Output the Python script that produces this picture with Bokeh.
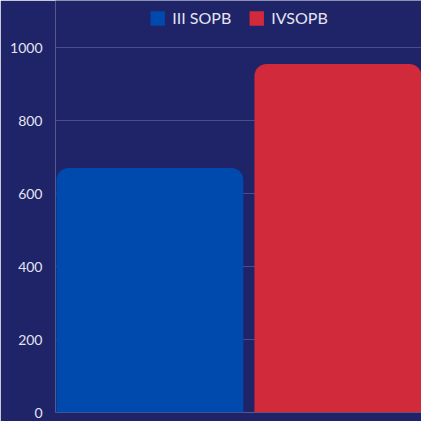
from bokeh.plotting import figure
from bokeh.models import ColumnDataSource, FixedTicker, Range1d, Legend, LegendItem
from bokeh.embed import file_html
from bokeh.resources import INLINE

series = ["III SOPB", "IVSOPB"]
values = [670, 955]
colors = ["#0049AD", "#D12A3B"]
y_ticks = [0, 200, 400, 600, 800, 1000]

BG = "#1F2368"
TXT = "#E4E4F2"

p = figure(width=421, height=421, output_backend="svg", toolbar_location=None,
           x_range=Range1d(-0.477, 1.372), y_range=Range1d(0, 1129),
           min_border_left=55, min_border_right=0, min_border_top=0, min_border_bottom=9)
p.background_fill_color = BG
p.border_fill_color = BG
p.outline_line_color = None

items = []
for i, (s, v, c) in enumerate(zip(series, values, colors)):
    src = ColumnDataSource(dict(x=[i], top=[v], name=[s]))
    r = p.vbar(x="x", top="top", width=0.944, source=src, fill_color=c, line_color=None,
               border_radius=(12, 12, 0, 0))
    items.append(LegendItem(label=s, renderers=[r]))

p.xaxis.visible = False
p.xgrid.visible = False
p.xgrid.grid_line_color = None
p.yaxis.ticker = FixedTicker(ticks=y_ticks)
p.yaxis.axis_line_color = None
p.yaxis.major_tick_line_color = None
p.yaxis.minor_tick_line_color = None
p.yaxis.major_label_text_color = TXT
p.yaxis.major_label_text_font = "Lato"
p.yaxis.major_label_text_font_size = "14px"
p.yaxis.major_label_standoff = 7
p.ygrid.ticker = FixedTicker(ticks=y_ticks)
p.ygrid.grid_line_color = "#4A4D8A"
p.ygrid.grid_line_width = 1

legend = Legend(items=items, orientation="horizontal", location="top_center",
                background_fill_alpha=0, border_line_color=None,
                label_text_color=TXT, label_text_font="Lato", label_text_font_size="16px",
                glyph_width=18, glyph_height=18, label_standoff=6, spacing=16,
                margin=8, padding=8)
p.add_layout(legend)

open("out.html", "w").write(file_html(p, INLINE))
